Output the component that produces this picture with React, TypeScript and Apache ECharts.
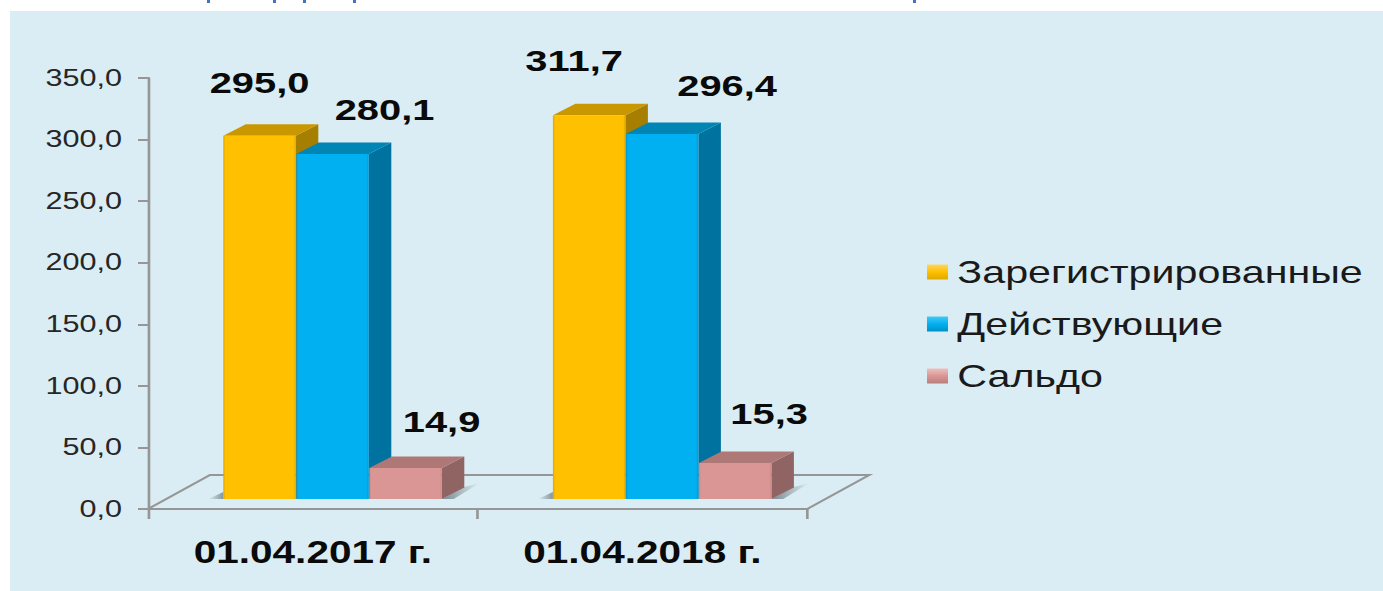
import React, { useEffect, useRef } from "react";
import * as echarts from "echarts";

const categories = ["01.04.2017 г.", "01.04.2018 г."];
const seriesNames = ["Зарегистрированные", "Действующие", "Сальдо"];
const registered = [295.0, 311.7];
const active = [280.1, 296.4];
const balancePrinted = [14.9, 15.3];
// In the picture the "Сальдо" bars stand taller than their printed labels; these are the drawn heights.
const balanceDrawn = [25.2, 29.2];
const yTicksMax = 350;
const yTicksStep = 50;

// The reference is a horizontally stretched picture: the chart is laid out narrower and stretched by CSS.
const S = 1.33;
const X = (px: number) => px / S;

const BAR_W = 73;
const DEPTH_X = 22.5;
const DEPTH_Y = 11.5;
const FLOOR_LIFT = 10;
const BAR_START = -89.5;

const palette = [
  { front: "#FFC000", edge: "#DDA500", top: "#C99700", side: "#A67F00", legendHi: "#FFD75A", legendLo: "#E0A800" },
  { front: "#00B0F0", edge: "#0098D0", top: "#0085B5", side: "#0072A0", legendHi: "#45C8F5", legendLo: "#0090C5" },
  { front: "#D99694", edge: "#C98886", top: "#AE7876", side: "#8F6462", legendHi: "#EDBFBD", legendLo: "#B97F7D" },
];

// label shift from bar centre / front top edge, per series and date
const labelShift = [
  [[0, -53], [-15, -55]],
  [[52, -45], [65, -49]],
  [[36, -47], [34, -50]],
];

const fmt = (v: number) => v.toFixed(1).replace(".", ",");

function barSeries(seriesIndex: number, drawn: number[], printed: number[]) {
  const c = palette[seriesIndex];
  return {
    type: "custom",
    name: seriesNames[seriesIndex],
    itemStyle: { color: c.front },
    clip: false,
    silent: true,
    data: categories.map((_, i) => [i, drawn[i], printed[i]]),
    encode: { x: 0, y: 1 },
    renderItem: (_p: any, api: any) => {
      const idx = api.value(0);
      const base = api.coord([idx, 0]);
      const topPt = api.coord([idx, api.value(1)]);
      const x0 = base[0] + X(BAR_START + seriesIndex * BAR_W);
      const x1 = x0 + X(BAR_W - 0.5);
      const yb = base[1] - FLOOR_LIFT;
      const yt = topPt[1] - FLOOR_LIFT;
      const dx = X(DEPTH_X);
      const dy = DEPTH_Y;
      const children: any[] = [];
      if (seriesIndex === 0) {
        children.push({
          type: "polygon",
          shape: { points: [[x0 - X(15), yb], [x0, yb], [x0, yb - 7]] },
          style: {
            fill: new echarts.graphic.LinearGradient(0, 0, 1, 0, [
              { offset: 0, color: "rgba(110,125,130,0)" },
              { offset: 1, color: "rgba(110,125,130,0.8)" },
            ]),
          },
        });
      }
      if (seriesIndex === 2) {
        children.push({
          type: "polygon",
          shape: { points: [[x1, yb], [x1 + dx, yb - 12], [x1 + X(38), yb - 16], [x1 + X(12), yb]] },
          style: {
            fill: new echarts.graphic.LinearGradient(0, 0, 1, 0, [
              { offset: 0, color: "rgba(110,125,130,0.9)" },
              { offset: 1, color: "rgba(110,125,130,0)" },
            ]),
          },
        });
      }
      children.push(
        {
          type: "polygon",
          shape: { points: [[x1, yt], [x1 + dx, yt - dy], [x1 + dx, yb - dy], [x1, yb]] },
          style: { fill: c.side },
        },
        {
          type: "polygon",
          shape: { points: [[x0, yt], [x0 + dx, yt - dy], [x1 + dx, yt - dy], [x1, yt]] },
          style: { fill: c.top },
        },
        {
          type: "rect",
          shape: { x: x0, y: yt, width: x1 - x0, height: yb - yt },
          style: {
            fill: new echarts.graphic.LinearGradient(0, 0, 1, 0, [
              { offset: 0, color: c.edge },
              { offset: 0.03, color: c.front },
              { offset: 0.97, color: c.front },
              { offset: 1, color: c.edge },
            ]),
          },
        },
        {
          type: "text",
          x: (x0 + x1) / 2 + X(labelShift[seriesIndex][idx][0]),
          y: yt + labelShift[seriesIndex][idx][1],
          style: {
            text: fmt(api.value(2)),
            fontFamily: "Liberation Sans",
            fontWeight: "bold",
            fontSize: 30,
            fill: "#0a0a0a",
            align: "center",
            verticalAlign: "middle",
          },
        }
      );
      return { type: "group", children };
    },
  };
}

const floorSeries = {
  type: "custom",
  silent: true,
  clip: false,
  data: [[0, 0]],
  encode: { x: 0, y: 1 },
  renderItem: (params: any, api: any) => {
    const cs = params.coordSys;
    const y0 = api.coord([0, 0])[1];
    const l = cs.x;
    const r = cs.x + cs.width;
    return {
      type: "polyline",
      shape: {
        points: [[l, y0], [l + X(62), y0 - 34], [r + X(62), y0 - 34], [r, y0]],
      },
      style: { stroke: "#969696", lineWidth: 2, fill: "none" },
    };
  },
};

const descenderMarks = [207, 273, 303, 353, 913];

export default function App() {
  const ref = useRef<HTMLDivElement>(null);
  useEffect(() => {
    if (!ref.current) return;
    const chart = echarts.init(ref.current, null, { renderer: "svg" });
    const axisGrey = { color: "#969696", width: 2 };
    chart.setOption({
      animation: false,
      grid: { left: X(148), right: X(1383 - 807), top: 78, bottom: 591 - 509, containLabel: false },
      xAxis: {
        type: "category",
        data: categories,
        axisLine: { lineStyle: axisGrey },
        axisTick: { show: true, length: 10, lineStyle: axisGrey },
        axisLabel: {
          fontFamily: "Liberation Sans",
          fontWeight: "bold",
          fontSize: 30.5,
          color: "#0a0a0a",
          margin: 28,
        },
      },
      yAxis: {
        type: "value",
        min: 0,
        max: yTicksMax,
        interval: yTicksStep,
        splitLine: { show: false },
        axisLine: { show: true, lineStyle: axisGrey },
        axisTick: { show: true, length: X(10), lineStyle: axisGrey },
        axisLabel: {
          formatter: (v: number) => fmt(v),
          fontFamily: "Liberation Sans",
          fontSize: 23,
          color: "#262626",
          margin: X(26),
        },
      },
      legend: {
        orient: "vertical",
        left: X(927),
        top: 256.5,
        padding: 0,
        itemWidth: X(21),
        itemHeight: 15,
        itemGap: 21,
        icon: "rect",
        data: seriesNames.map((name, i) => ({
          name,
          itemStyle: {
            color: new echarts.graphic.LinearGradient(0, 0, 0, 1, [
              { offset: 0, color: palette[i].legendHi },
              { offset: 0.5, color: palette[i].front },
              { offset: 1, color: palette[i].legendLo },
            ]),
          },
        })),
        textStyle: {
          fontFamily: "Liberation Sans",
          fontSize: 31,
          color: "#1a1a1a",
          padding: [0, 0, 0, 2],
        },
      },
      graphic: descenderMarks.map((mx) => ({
        type: "rect",
        shape: { x: X(mx), y: 0, width: X(3), height: 3 },
        style: { fill: "#4472C4" },
      })),
      series: [
        floorSeries,
        barSeries(0, registered, registered),
        barSeries(1, active, active),
        barSeries(2, balanceDrawn, balancePrinted),
      ],
    });
    return () => chart.dispose();
  }, []);
  return (
    <div style={{ position: "fixed", left: 0, top: 0, width: 1383, height: 591, background: "#fff", overflow: "hidden" }}>
      <div style={{ position: "absolute", left: 10, top: 11, right: 0, bottom: 0, background: "#DBEDF4" }} />
      <div
        ref={ref}
        style={{
          position: "absolute",
          left: 0,
          top: 0,
          width: 1383 / S,
          height: 591,
          transform: `scaleX(${S})`,
          transformOrigin: "0 0",
        }}
      />
    </div>
  );
}
